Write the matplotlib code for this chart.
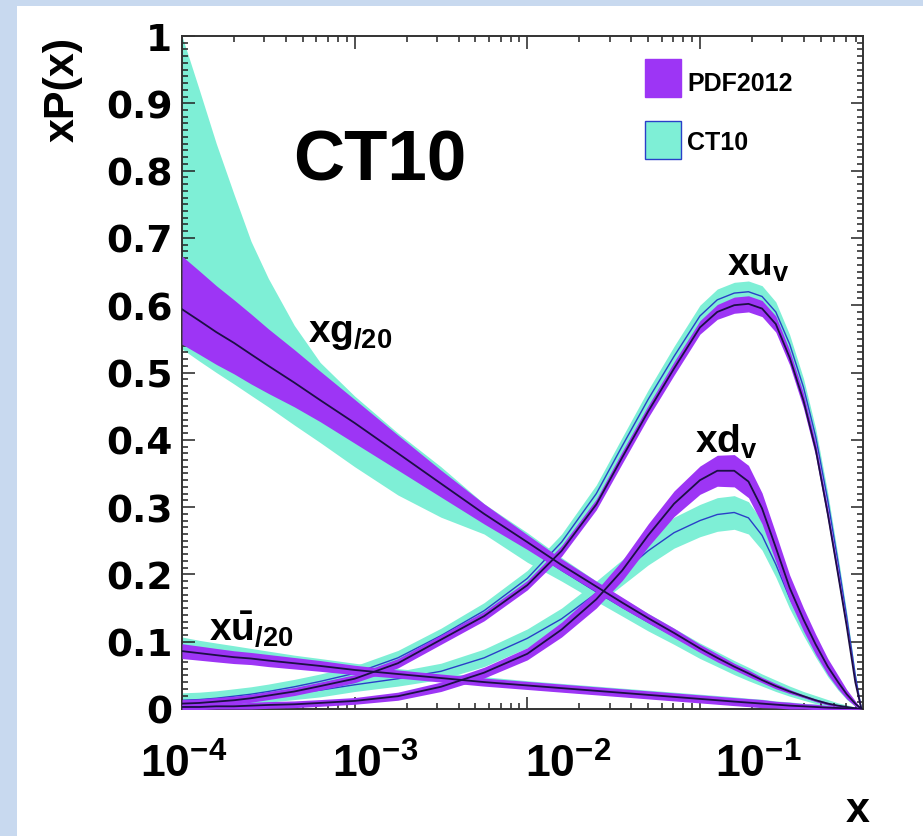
import numpy as np
import matplotlib
matplotlib.use("Agg")
import matplotlib.pyplot as plt
import matplotlib.transforms as mtransforms
from matplotlib.patches import Rectangle
from matplotlib.ticker import LogLocator, NullFormatter, MultipleLocator

# ---- data (x positions shared by all curves) ----
x = [1.0e-4, 1.26e-4, 1.58e-4, 2.0e-4, 2.51e-4, 3.16e-4, 4.47e-4, 6.31e-4,
     1.0e-3, 1.78e-3, 3.16e-3, 5.62e-3, 1.0e-2, 1.58e-2, 2.51e-2, 3.55e-2,
     5.01e-2, 7.08e-2, 0.1, 0.126, 0.158, 0.191, 0.229, 0.275,
     0.331, 0.398, 0.468, 0.55, 0.631, 0.708, 0.794, 0.861]

# x g / 20
g_pdf = [0.594, 0.577, 0.560, 0.544, 0.527, 0.51, 0.485, 0.459,
         0.425, 0.38, 0.335, 0.29, 0.248, 0.214, 0.182, 0.158,
         0.135, 0.113, 0.09, 0.076, 0.063, 0.053, 0.043, 0.034,
         0.026, 0.019, 0.013, 0.008, 0.005, 0.003, 0.001, 0.0]
g_pdf_hi = [0.673, 0.651, 0.629, 0.608, 0.587, 0.565, 0.534, 0.502,
            0.46, 0.407, 0.355, 0.305, 0.259, 0.223, 0.19, 0.166,
            0.142, 0.12, 0.096, 0.082, 0.068, 0.058, 0.047, 0.038,
            0.029, 0.021, 0.015, 0.01, 0.006, 0.004, 0.002, 0.0]
g_pdf_lo = [0.542, 0.527, 0.512, 0.498, 0.483, 0.469, 0.449, 0.427,
            0.395, 0.355, 0.315, 0.275, 0.237, 0.205, 0.174, 0.15,
            0.128, 0.106, 0.084, 0.07, 0.058, 0.048, 0.039, 0.03,
            0.023, 0.017, 0.011, 0.006, 0.004, 0.002, 0.0, 0.0]
g_ct = [0.62, 0.60, 0.58, 0.56, 0.54, 0.52, 0.492, 0.465,
        0.425, 0.375, 0.325, 0.28, 0.24, 0.206, 0.174, 0.151,
        0.129, 0.108, 0.086, 0.073, 0.06, 0.051, 0.042, 0.033,
        0.025, 0.018, 0.012, 0.007, 0.004, 0.002, 0.001, 0.0]
g_ct_hi = [1.0, 0.92, 0.84, 0.765, 0.695, 0.64, 0.57, 0.515,
           0.465, 0.41, 0.36, 0.305, 0.262, 0.225, 0.19, 0.165,
           0.142, 0.12, 0.098, 0.085, 0.072, 0.062, 0.052, 0.043,
           0.034, 0.026, 0.02, 0.014, 0.009, 0.006, 0.003, 0.0]
g_ct_lo = [0.535, 0.517, 0.5, 0.483, 0.466, 0.449, 0.422, 0.396,
           0.36, 0.318, 0.285, 0.26, 0.218, 0.19, 0.16, 0.138,
           0.116, 0.096, 0.075, 0.063, 0.051, 0.042, 0.034, 0.026,
           0.019, 0.013, 0.008, 0.004, 0.002, 0.001, 0.0, 0.0]

# x ubar / 20
ub_pdf = [0.086, 0.083, 0.080, 0.077, 0.075, 0.072, 0.068, 0.064,
          0.058, 0.052, 0.046, 0.04, 0.035, 0.031, 0.027, 0.024,
          0.021, 0.018, 0.015, 0.013, 0.011, 0.0095, 0.008, 0.0065,
          0.005, 0.004, 0.003, 0.002, 0.0015, 0.001, 0.0005, 0.0]
ub_pdf_err = [0.011, 0.0105, 0.01, 0.0095, 0.009, 0.009, 0.0085, 0.008,
              0.007, 0.006, 0.006, 0.006, 0.006, 0.006, 0.006, 0.006,
              0.006, 0.006, 0.006, 0.006, 0.006, 0.006, 0.006, 0.005,
              0.005, 0.004, 0.004, 0.003, 0.003, 0.002, 0.001, 0.0]
ub_ct = [0.092, 0.088, 0.085, 0.082, 0.079, 0.076, 0.071, 0.067,
         0.061, 0.054, 0.048, 0.042, 0.036, 0.032, 0.028, 0.025,
         0.022, 0.019, 0.016, 0.014, 0.012, 0.010, 0.0085, 0.007,
         0.0055, 0.0045, 0.0035, 0.0025, 0.0015, 0.001, 0.0005, 0.0]
ub_ct_err = [0.015, 0.014, 0.013, 0.012, 0.011, 0.01, 0.009, 0.008,
             0.007, 0.006, 0.006, 0.006, 0.006, 0.006, 0.006, 0.006,
             0.006, 0.006, 0.006, 0.006, 0.006, 0.006, 0.006, 0.005,
             0.005, 0.004, 0.004, 0.003, 0.003, 0.002, 0.001, 0.0]

# x u_v
uv_pdf = [0.008, 0.009, 0.011, 0.013, 0.016, 0.02, 0.026, 0.034,
          0.045, 0.068, 0.103, 0.138, 0.184, 0.235, 0.304, 0.374,
          0.442, 0.506, 0.567, 0.59, 0.60, 0.602, 0.595, 0.572,
          0.522, 0.458, 0.386, 0.29, 0.2, 0.123, 0.04, 0.0]
uv_pdf_err = [0.006, 0.006, 0.006, 0.006, 0.006, 0.006, 0.006, 0.006,
              0.006, 0.007, 0.007, 0.007, 0.007, 0.008, 0.008, 0.009,
              0.009, 0.01, 0.01, 0.011, 0.012, 0.012, 0.012, 0.012,
              0.011, 0.011, 0.01, 0.009, 0.008, 0.006, 0.004, 0.0]
uv_ct = [0.013, 0.014, 0.016, 0.019, 0.022, 0.026, 0.033, 0.041,
         0.053, 0.076, 0.109, 0.146, 0.194, 0.248, 0.32, 0.391,
         0.46, 0.524, 0.584, 0.608, 0.618, 0.62, 0.613, 0.59,
         0.542, 0.478, 0.405, 0.31, 0.218, 0.137, 0.05, 0.0]
uv_ct_err = [0.011, 0.011, 0.011, 0.011, 0.011, 0.011, 0.011, 0.011,
             0.011, 0.011, 0.011, 0.012, 0.012, 0.012, 0.013, 0.013,
             0.014, 0.015, 0.016, 0.016, 0.016, 0.016, 0.016, 0.015,
             0.014, 0.013, 0.012, 0.011, 0.009, 0.007, 0.004, 0.0]

# x d_v
dv_pdf = [0.003, 0.003, 0.004, 0.004, 0.005, 0.006, 0.007, 0.009,
          0.012, 0.019, 0.033, 0.054, 0.082, 0.118, 0.163, 0.206,
          0.258, 0.305, 0.34, 0.354, 0.354, 0.338, 0.298, 0.24,
          0.18, 0.133, 0.096, 0.063, 0.04, 0.022, 0.008, 0.0]
dv_pdf_err = [0.004, 0.004, 0.004, 0.004, 0.005, 0.005, 0.005, 0.005,
              0.005, 0.006, 0.007, 0.008, 0.009, 0.011, 0.013, 0.015,
              0.017, 0.019, 0.021, 0.023, 0.024, 0.024, 0.023, 0.021,
              0.019, 0.017, 0.015, 0.012, 0.01, 0.007, 0.004, 0.0]
dv_ct = [0.012, 0.013, 0.015, 0.016, 0.018, 0.02, 0.024, 0.028,
         0.036, 0.045, 0.056, 0.076, 0.105, 0.134, 0.172, 0.203,
         0.235, 0.262, 0.28, 0.289, 0.292, 0.284, 0.258, 0.215,
         0.165, 0.123, 0.089, 0.058, 0.036, 0.02, 0.007, 0.0]
dv_ct_err = [0.01, 0.01, 0.01, 0.01, 0.01, 0.01, 0.01, 0.01,
             0.01, 0.011, 0.012, 0.013, 0.014, 0.016, 0.018, 0.019,
             0.021, 0.023, 0.024, 0.025, 0.025, 0.024, 0.022, 0.019,
             0.016, 0.014, 0.012, 0.01, 0.008, 0.006, 0.003, 0.0]

y_ticks = [0, 0.1, 0.2, 0.3, 0.4, 0.5, 0.6, 0.7, 0.8, 0.9, 1.0]
y_ticklabels = ["0", "0.1", "0.2", "0.3", "0.4", "0.5", "0.6", "0.7", "0.8", "0.9", "1"]
x_ticks = [1e-4, 1e-3, 1e-2, 1e-1]
x_ticklabels = [r"$10^{-4}$", r"$10^{-3}$", r"$10^{-2}$", r"$10^{-1}$"]

PURPLE = "#9d35f5"
CYAN = "#7eefd6"
DARK = "#1c0f45"
BLUE = "#2a3fc8"
BG = "#c8d9ef"
FONT = "Liberation Sans"

plt.rcParams["mathtext.fontset"] = "custom"
plt.rcParams["mathtext.rm"] = FONT + ":bold"
plt.rcParams["mathtext.it"] = FONT + ":bold"
plt.rcParams["mathtext.bf"] = FONT + ":bold"

W, H = 923, 837
fig = plt.figure(figsize=(W / 100, H / 100), dpi=100)
fig.patch.set_facecolor(BG)
fig.add_artist(Rectangle((17 / W, 0), 1, 1 - 7 / H, transform=fig.transFigure,
                         facecolor="white", edgecolor="none", zorder=0))

ax = fig.add_axes([182 / W, 1 - 710 / H, (863 - 182) / W, (710 - 37) / H])
ax.set_xscale("log")
ax.set_xlim(1e-4, 0.88)
ax.set_ylim(0, 1)

xa = np.array(x)


def band(c, lo, hi, fc, lc, z, lw):
    ax.fill_between(xa, lo, hi, color=fc, lw=0, zorder=z)
    ax.plot(xa, c, color=lc, lw=lw, zorder=z + 0.5)


# CT10 first, PDF2012 drawn over it
band(g_ct, g_ct_lo, g_ct_hi, CYAN, BLUE, 1, 1.0)
for c, e in [(ub_ct, ub_ct_err), (uv_ct, uv_ct_err), (dv_ct, dv_ct_err)]:
    c = np.array(c); e = np.array(e)
    band(c, c - e, c + e, CYAN, BLUE, 1, 1.0)

band(g_pdf, g_pdf_lo, g_pdf_hi, PURPLE, DARK, 3, 1.3)
for c, e in [(ub_pdf, ub_pdf_err), (uv_pdf, uv_pdf_err), (dv_pdf, dv_pdf_err)]:
    c = np.array(c); e = np.array(e)
    band(c, c - e, c + e, PURPLE, DARK, 3, 1.3)

# axes styling (ROOT look)
for s in ax.spines.values():
    s.set_linewidth(1.4)
    s.set_color("#333333")
ax.set_yticks(y_ticks)
ax.set_yticklabels(y_ticklabels, fontfamily="DejaVu Sans", fontweight="bold", fontsize=27)
ax.yaxis.set_minor_locator(MultipleLocator(0.01))
ax.set_xticks(x_ticks)
ax.set_xticklabels(x_ticklabels, fontsize=32)
ax.xaxis.set_minor_locator(LogLocator(base=10, subs=np.arange(2, 10)))
ax.xaxis.set_minor_formatter(NullFormatter())
ax.tick_params(which="both", direction="in", top=True, right=True, width=1.1, color="#222222")
ax.tick_params(which="major", length=9)
ax.tick_params(which="minor", length=4.5)
ax.tick_params(axis="y", pad=7)
ax.tick_params(axis="x", pad=24)

# x tick labels sit progressively right of their ticks in the original
shift_px = [2, 20, 41, 58]
for lab, dx in zip(ax.get_xticklabels(), shift_px):
    lab.set_transform(lab.get_transform() + mtransforms.ScaledTranslation(dx / 100, 0, fig.dpi_scale_trans))

# axis titles
fig.text(63 / W, 1 - 37 / H, "xP(x)", rotation=90, ha="center", va="top",
         fontfamily=FONT, fontweight="bold", fontsize=31)
fig.text(858 / W, 1 - 811 / H, "x", ha="center", va="center",
         fontfamily=FONT, fontweight="bold", fontsize=31)

# curve labels
ax.text(1.39e-3, 0.814, "CT10", ha="center", va="center", fontfamily=FONT,
        fontweight="bold", fontsize=51, zorder=6)
ax.text(5.4e-4, 0.547, r"$xg_{/20}$", ha="left", va="baseline", fontsize=28, zorder=6)
ax.text(1.44e-4, 0.101, r"$x\bar{u}_{/20}$", ha="left", va="baseline", fontsize=28, zorder=6)
ax.text(0.1426, 0.646, r"$xu_{v}$", ha="left", va="baseline", fontsize=28, zorder=6)
ax.text(0.0942, 0.382, r"$xd_{v}$", ha="left", va="baseline", fontsize=28, zorder=6)

# legend drawn ROOT style
ax.add_patch(Rectangle((645 / W, 1 - 98 / H), 36 / W, 38 / H, transform=fig.transFigure,
                       facecolor=PURPLE, edgecolor=PURPLE, lw=1, zorder=7))
ax.add_patch(Rectangle((645 / W, 1 - 160 / H), 36 / W, 38 / H, transform=fig.transFigure,
                       facecolor=CYAN, edgecolor=BLUE, lw=1, zorder=7))
fig.text(687 / W, 1 - 84 / H, "PDF2012", ha="left", va="center",
         fontfamily=FONT, fontweight="bold", fontsize=18)
fig.text(687 / W, 1 - 143 / H, "CT10", ha="left", va="center",
         fontfamily=FONT, fontweight="bold", fontsize=18)

fig.savefig("out.png", dpi=100, facecolor=fig.get_facecolor())
